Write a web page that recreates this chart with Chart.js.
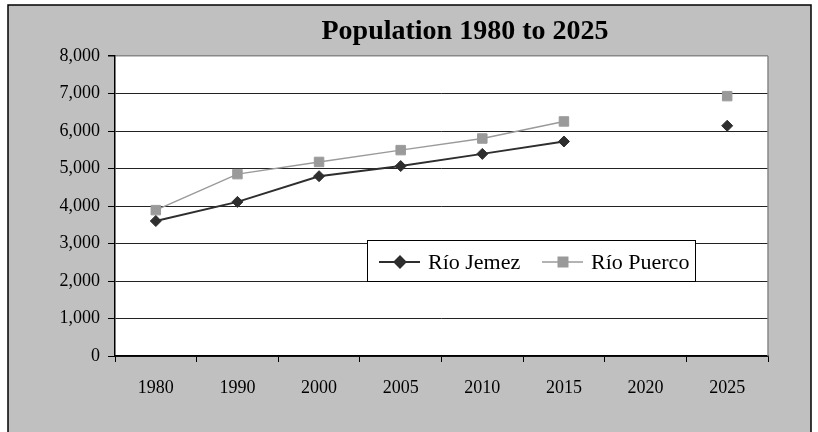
<!DOCTYPE html>
<html>
<head>
<meta charset="utf-8">
<script src="https://cdn.jsdelivr.net/npm/chart.js@4/dist/chart.umd.min.js"></script>
<style>
  body { margin: 0; background: #fff; }
</style>
</head>
<body>
<canvas id="myChart" width="818" height="432"></canvas>
<script>
// data
var years = ["1980", "1990", "2000", "2005", "2010", "2015", "2020", "2025"];
var rioJemez = [3600, 4110, 4795, 5065, 5390, 5720, null, 6140];
var rioPuerco = [3890, 4850, 5175, 5490, 5800, 6255, null, 6930];
var chartTitle = "Population 1980 to 2025";
var yMin = 0, yMax = 8000, yStep = 1000;

var serif = "'Liberation Serif', 'Times New Roman', serif";

// grey frame, white plot, title and the boxed legend
var framePlugin = {
  id: "frame",
  beforeDraw: function(chart) {
    var ctx = chart.ctx, a = chart.chartArea;
    ctx.save();
    ctx.fillStyle = "#fff";
    ctx.fillRect(0, 0, chart.width, chart.height);
    ctx.fillStyle = "#c0c0c0";
    ctx.fillRect(8, 5, 803, 440);
    ctx.strokeStyle = "#000";
    ctx.lineWidth = 1.5;
    ctx.strokeRect(8, 5, 803, 440);
    ctx.fillStyle = "#fff";
    ctx.fillRect(a.left, a.top, a.right - a.left, a.bottom - a.top);
    ctx.restore();
  },
  afterDraw: function(chart) {
    var ctx = chart.ctx, a = chart.chartArea;
    ctx.save();
    // right edge of the plot
    ctx.strokeStyle = "#888";
    ctx.lineWidth = 1.5;
    ctx.beginPath();
    ctx.moveTo(a.right, a.top);
    ctx.lineTo(a.right, a.bottom);
    ctx.stroke();

    // title
    ctx.fillStyle = "#000";
    ctx.font = "bold 28px " + serif;
    ctx.textAlign = "center";
    ctx.textBaseline = "middle";
    ctx.fillText(chartTitle, 465, 32);

    // legend box
    ctx.fillStyle = "#fff";
    ctx.fillRect(367.5, 240.5, 328, 41);
    ctx.strokeStyle = "#000";
    ctx.lineWidth = 1;
    ctx.strokeRect(367.5, 240.5, 328, 41);
    var starts = [379, 542];
    ctx.font = "22px " + serif;
    ctx.textAlign = "left";
    chart.data.datasets.forEach(function(ds, i) {
      var x = starts[i], y = 262;
      ctx.strokeStyle = ds.borderColor;
      ctx.lineWidth = ds.borderWidth;
      ctx.beginPath();
      ctx.moveTo(x, y);
      ctx.lineTo(x + 41, y);
      ctx.stroke();
      Chart.helpers.drawPoint(ctx, {
        pointStyle: ds.pointStyle,
        radius: ds.pointRadius,
        borderWidth: 1,
        rotation: 0
      }, x + 21, y);
      ctx.fillStyle = ds.pointBackgroundColor;
      ctx.strokeStyle = ds.pointBorderColor;
      ctx.fill();
      ctx.fillStyle = "#000";
      ctx.fillText(ds.label, x + 49, y + 1);
    });
    ctx.restore();
  }
};

var chartData = {
  labels: years,
  datasets: [
    {
      label: "Río Jemez",
      data: rioJemez,
      borderColor: "#2e2e2e",
      borderWidth: 2,
      pointStyle: "rectRot",
      pointRadius: 5.5,
      pointBackgroundColor: "#2e2e2e",
      pointBorderColor: "#2e2e2e",
      pointBorderWidth: 1,
      spanGaps: false,
      tension: 0
    },
    {
      label: "Río Puerco",
      data: rioPuerco,
      borderColor: "#9a9a9a",
      borderWidth: 1.5,
      pointStyle: "rect",
      pointRadius: 6.7,
      pointBackgroundColor: "#9a9a9a",
      pointBorderColor: "#9a9a9a",
      pointBorderWidth: 1,
      spanGaps: false,
      tension: 0
    }
  ]
};

const config = {
  type: "line",
  data: chartData,
  options: {
    responsive: false,
    animation: false,
    layout: { padding: { left: 0, right: 50, top: 56, bottom: 0 } },
    plugins: {
      legend: { display: false },
      title: { display: false },
      tooltip: { enabled: false }
    },
    scales: {
      x: {
        offset: true,
        afterFit: function(s) { s.height = 76; },
        grid: {
          offset: true,
          drawOnChartArea: false,
          drawTicks: true,
          tickLength: 6,
          tickColor: "#000"
        },
        border: { color: "#000", width: 1.5 },
        ticks: {
          color: "#000",
          padding: 15,
          maxRotation: 0,
          font: { family: serif, size: 18 }
        }
      },
      y: {
        min: yMin,
        max: yMax,
        afterFit: function(s) { s.width = 115; },
        grid: {
          color: function(c) { return c.tick && c.tick.value === yMax ? "#888" : "#222"; },
          lineWidth: function(c) { return c.tick && c.tick.value === yMax ? 1.5 : 1; },
          tickLength: 7,
          tickColor: "#000"
        },
        border: { color: "#000", width: 1.5 },
        ticks: {
          stepSize: yStep,
          color: "#000",
          padding: 8,
          font: { family: serif, size: 18 },
          callback: function(v) { return v.toLocaleString("en-US"); }
        }
      }
    }
  },
  plugins: [framePlugin]
};
const myChart = new Chart(document.getElementById("myChart"), config);
</script>
</body>
</html>
